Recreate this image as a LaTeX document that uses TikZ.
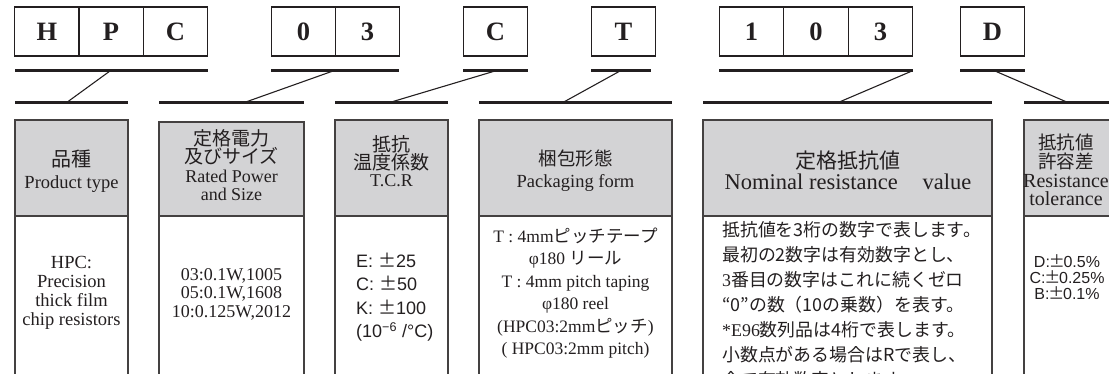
\documentclass[tikz,border=0pt]{standalone}
\usepackage{fontspec}
\setmainfont{Liberation Serif}
\newfontfamily\jp{Noto Sans CJK JP}
\newfontfamily\lsans{Liberation Sans}
\definecolor{hdr}{RGB}{211,211,213}
\definecolor{ink}{RGB}{35,31,32}
\begin{document}
\begin{tikzpicture}[x=1pt,y=-1pt,
  cell/.style={draw=ink, line width=1.3pt, minimum width=64.5pt, minimum height=49pt, inner sep=0pt, text=ink, font=\fontsize{26.5}{26}\selectfont\bfseries},
  uline/.style={draw=ink, line width=3pt},
  diag/.style={draw=ink, line width=1.1pt},
  catbox/.style={draw=ink!85, line width=1.6pt},
  txt/.style={inner sep=0pt, text=ink, align=center, font=\fontsize{18.5}{19}\selectfont},
]
\useasboundingbox (0,0) rectangle (1109,374);
\clip (0,0) rectangle (1109,374);

% ---------- top code cells ----------
\node[cell] (cH) at (47,31.5) {H};
\node[cell] (cP) at (111,31.5) {P};
\node[cell] (cC) at (175.5,31.5) {C};
\node[cell] (c0) at (303.5,31.5) {0};
\node[cell] (c3) at (367.5,31.5) {3};
\node[cell] (cC2) at (495.5,31.5) {C};
\node[cell] (cT) at (623.5,31.5) {T};
\node[cell] (d1) at (751.5,31.5) {1};
\node[cell] (d0) at (816,31.5) {0};
\node[cell] (d3) at (880.5,31.5) {3};
\node[cell] (cD) at (992.5,31.5) {D};

% ---------- underlines ----------
\draw[uline] (15,71) -- (208,71);
\draw[uline] (271,71) -- (399,71);
\draw[uline] (463,71) -- (528,71);
\draw[uline] (591,71) -- (651,71);
\draw[uline] (719,71) -- (913,71);
\draw[uline] (960,71) -- (1025,71);

% ---------- second-row lines ----------
\draw[uline] (15,103) -- (128,103);
\draw[uline] (159,103) -- (304,103);
\draw[uline] (335,103) -- (448,103);
\draw[uline] (479,103) -- (672,103);
\draw[uline] (703,103) -- (992,103);
\draw[uline] (1024,103) -- (1115,103);

% ---------- diagonals ----------
\coordinate (u1) at (110,71);  \coordinate (l1) at (66,103);
\coordinate (u2) at (333,71);  \coordinate (l2) at (243,103);
\coordinate (u3) at (495,71);  \coordinate (l3) at (388,103);
\coordinate (u4) at (620,71);  \coordinate (l4) at (562,103);
\coordinate (u5) at (912,71);  \coordinate (l5) at (837,103);
\coordinate (u6) at (995,71);  \coordinate (l6) at (1069,103);
\draw[diag] (u1) -- (l1);
\draw[diag] (u2) -- (l2);
\draw[diag] (u3) -- (l3);
\draw[diag] (u4) -- (l4);
\draw[diag] (u5) -- (l5);
\draw[diag] (u6) -- (l6);

% ---------- category boxes ----------
\foreach \a/\b/\t in {15/128/120, 159/304/122, 335/448/120, 479/672/120, 703/992/120, 1024/1116/120}{
  \fill[hdr] (\a,\t) rectangle (\b,216);
  \draw[catbox] (\a,\t) rectangle (\b,420);
  \draw[catbox] (\a,216) -- (\b,216);
}

% box 1
\node[txt, font=\fontsize{18.5}{22}\selectfont] (h1) at (71.5,171) {{\jp\fontsize{20}{22}\selectfont 品種}\\Product type};
\node[txt] (b1) at (71.5,293) {HPC:\\Precision\\thick film\\chip resistors};
% box 2
\node[txt, font=\fontsize{18}{18.3}\selectfont] (h2) at (231.5,165) {{\jp\fontsize{19}{18.3}\selectfont 定格電力}\\{\jp\fontsize{19}{18.3}\selectfont 及びサイズ}\\Rated Power\\and Size};
\node[txt, font=\fontsize{18}{18.5}\selectfont] (b2) at (231.5,294) {03:0.1W,1005\\05:0.1W,1608\\10:0.125W,2012};
% box 3
\node[txt, font=\fontsize{18}{16.8}\selectfont] (h3) at (391.5,161) {{\jp\fontsize{19}{16.8}\selectfont 抵抗}\\{\jp\fontsize{19}{16.8}\selectfont 温度係数}\\T.C.R};
\node[txt, align=left, anchor=west, font=\fontsize{18}{23.3}\selectfont\lsans] (b3) at (356,297)
  {E: \makebox[1em]{\jp ±}25\\C: \makebox[1em]{\jp ±}50\\K: \makebox[1em]{\jp ±}100\\(10\textsuperscript{−6} /°C)};
% box 4
\node[txt, font=\fontsize{18.5}{22}\selectfont] (h4) at (575.5,171) {{\jp 梱包形態}\\Packaging form};
\node[txt, font=\fontsize{17.5}{22.5}\selectfont] (b4) at (575.5,293)
  {T : 4mm{\jp ピッチテープ}\\φ180 {\jp リール}\\T : 4mm pitch taping\\φ180 reel\\(HPC03:2mm{\jp ピッチ})\\( HPC03:2mm pitch)};
% box 5
\node[txt, font=\fontsize{22.5}{21}\selectfont] (h5) at (848,170) {{\jp\fontsize{21}{21}\selectfont 定格抵抗値}\\Nominal resistance\hspace{1.1em}value};
\node[txt, align=left, anchor=north west, font=\fontsize{17.9}{25}\selectfont] (b5) at (722,221)
  {{\jp 抵抗値を3桁の数字で表します。}\\
   {\jp 最初の2数字は有効数字とし、}\\
   3{\jp 番目の数字はこれに続くゼロ}\\
   {\jp “0”の数（10の乗数）を表す。}\\
   *E96{\jp 数列品は4桁で表します。}\\
   {\jp 小数点がある場合はRで表し、}\\
   {\jp 全て有効数字とします。}};
% box 6
\node[txt, font=\fontsize{20}{18.7}\selectfont] (h6) at (1066,170) {{\jp\fontsize{18.5}{18.7}\selectfont 抵抗値}\\{\jp\fontsize{18.5}{18.7}\selectfont 許容差}\\Resistance\\tolerance};
\node[txt, font=\fontsize{16}{16}\selectfont\lsans] (b6) at (1067,277)
  {D:\makebox[0.85em]{\jp ±}0.5\%\\C:\makebox[0.85em]{\jp ±}0.25\%\\B:\makebox[0.85em]{\jp ±}0.1\%};
\end{tikzpicture}
\end{document}
